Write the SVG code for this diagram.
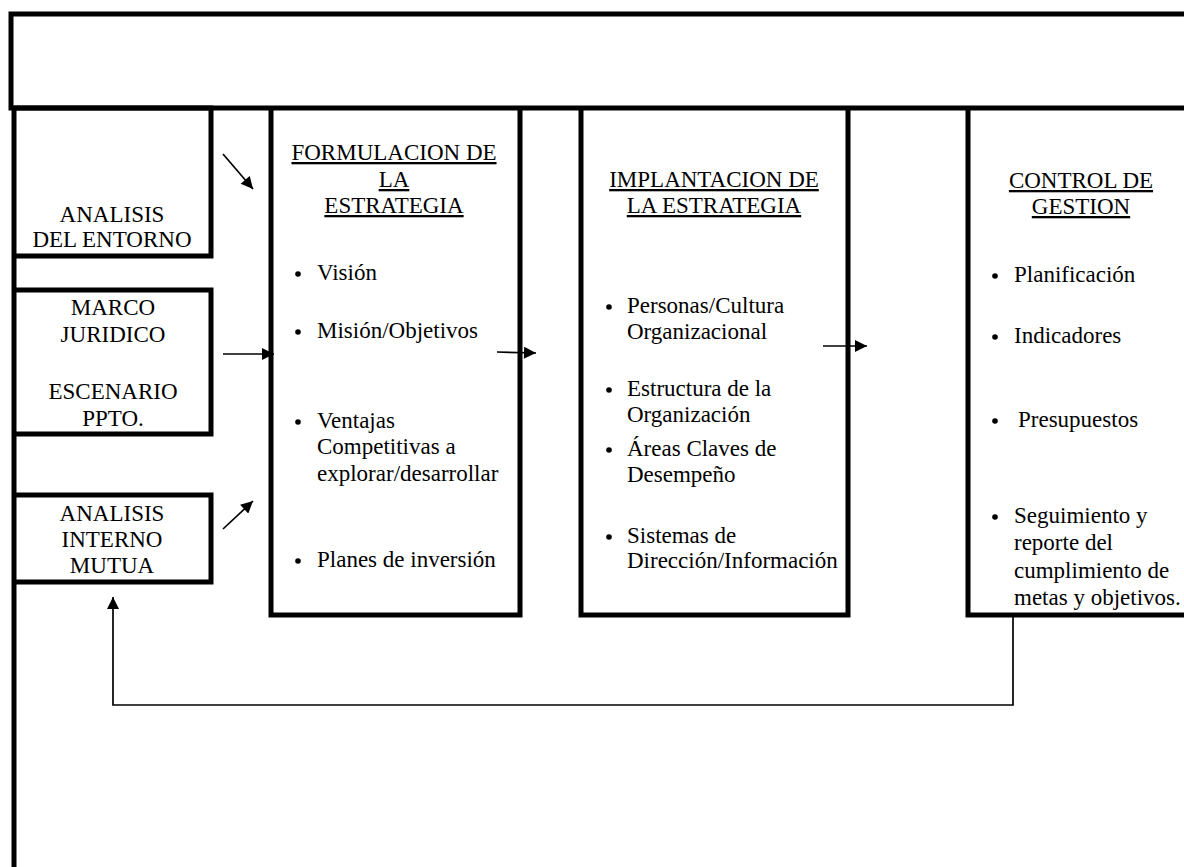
<svg xmlns="http://www.w3.org/2000/svg" width="1184" height="867" viewBox="0 0 1184 867">
<style>
.box{fill:none;stroke:#000;stroke-width:5}
.t{font-family:"Liberation Serif","Times New Roman",serif;font-size:23px;fill:#000}
.c{text-anchor:middle}
.u{text-decoration:underline}
.con{fill:none;stroke:#000;stroke-width:1.7}
.dot{fill:#000}
</style>
<defs>
<marker id="ah" viewBox="0 0 10 10" refX="10" refY="5" markerWidth="13" markerHeight="12" markerUnits="userSpaceOnUse" orient="auto">
<path d="M0,0 L10,5 L0,10 z" fill="#000"/>
</marker>
</defs>
<rect width="1184" height="867" fill="#fff"/>
<g id="frame">
<rect class="box" x="11" y="14" width="1200" height="94"/>
<line class="box" x1="14" y1="108" x2="14" y2="870"/>
</g>
<g id="analisis-entorno">
<path class="box" d="M14,108 H211 V256 H14"/>
<text class="t c" x="112" y="222">ANALISIS</text>
<text class="t c" x="112" y="247">DEL ENTORNO</text>
</g>
<g id="marco-juridico">
<path class="box" d="M14,290 H211 V434 H14"/>
<text class="t c" x="113" y="315">MARCO</text>
<text class="t c" x="113" y="342">JURIDICO</text>
<text class="t c" x="113" y="399">ESCENARIO</text>
<text class="t c" x="113" y="426">PPTO.</text>
</g>
<g id="analisis-interno">
<path class="box" d="M14,495 H211 V582 H14"/>
<text class="t c" x="112" y="521">ANALISIS</text>
<text class="t c" x="112" y="547">INTERNO</text>
<text class="t c" x="112" y="573">MUTUA</text>
</g>
<g id="formulacion">
<path class="box" d="M271,108 V615 H520 V108"/>
<text class="t c u" x="394" y="160">FORMULACION DE</text>
<text class="t c u" x="394" y="187">LA</text>
<text class="t c u" x="394" y="213">ESTRATEGIA</text>
<circle class="dot" cx="298" cy="274" r="2.8"/>
<text class="t" x="317" y="280">Visión</text>
<circle class="dot" cx="298" cy="332" r="2.8"/>
<text class="t" x="317" y="338">Misión/Objetivos</text>
<circle class="dot" cx="298" cy="422" r="2.8"/>
<text class="t" x="317" y="428">Ventajas</text>
<text class="t" x="317" y="454">Competitivas a</text>
<text class="t" x="317" y="481">explorar/desarrollar</text>
<circle class="dot" cx="298" cy="561" r="2.8"/>
<text class="t" x="317" y="567">Planes de inversión</text>
</g>
<g id="implantacion">
<path class="box" d="M581,108 V615 H848 V108"/>
<text class="t c u" x="714" y="187">IMPLANTACION DE</text>
<text class="t c u" x="714" y="213">LA ESTRATEGIA</text>
<circle class="dot" cx="609" cy="307" r="2.8"/>
<text class="t" x="627" y="313">Personas/Cultura</text>
<text class="t" x="627" y="339">Organizacional</text>
<circle class="dot" cx="609" cy="390" r="2.8"/>
<text class="t" x="627" y="396">Estructura de la</text>
<text class="t" x="627" y="422">Organización</text>
<circle class="dot" cx="609" cy="450" r="2.8"/>
<text class="t" x="627" y="456">Áreas Claves de</text>
<text class="t" x="627" y="482">Desempeño</text>
<circle class="dot" cx="609" cy="537" r="2.8"/>
<text class="t" x="627" y="543">Sistemas de</text>
<text class="t" x="627" y="568">Dirección/Información</text>
</g>
<g id="control">
<path class="box" d="M968,108 V615 H1190"/>
<text class="t c u" x="1081" y="188">CONTROL DE</text>
<text class="t c u" x="1081" y="214">GESTION</text>
<circle class="dot" cx="995" cy="276" r="2.8"/>
<text class="t" x="1014" y="282">Planificación</text>
<circle class="dot" cx="995" cy="337" r="2.8"/>
<text class="t" x="1014" y="343">Indicadores</text>
<circle class="dot" cx="995" cy="421" r="2.8"/>
<text class="t" x="1018" y="427">Presupuestos</text>
<circle class="dot" cx="995" cy="517" r="2.8"/>
<text class="t" x="1014" y="523">Seguimiento y</text>
<text class="t" x="1014" y="550">reporte del</text>
<text class="t" x="1014" y="578">cumplimiento de</text>
<text class="t" x="1014" y="605">metas y objetivos.</text>
</g>
<g id="connectors">
<line class="con" x1="223" y1="154" x2="253" y2="189" marker-end="url(#ah)"/>
<line class="con" x1="223" y1="354" x2="274" y2="354" marker-end="url(#ah)"/>
<line class="con" x1="223" y1="529" x2="253" y2="501" marker-end="url(#ah)"/>
<line class="con" x1="497" y1="352" x2="536" y2="353" marker-end="url(#ah)"/>
<line class="con" x1="823" y1="346" x2="867" y2="346" marker-end="url(#ah)"/>
<polyline class="con" points="1013,617 1013,705 113,705 113,597" marker-end="url(#ah)"/>
</g>
</svg>
